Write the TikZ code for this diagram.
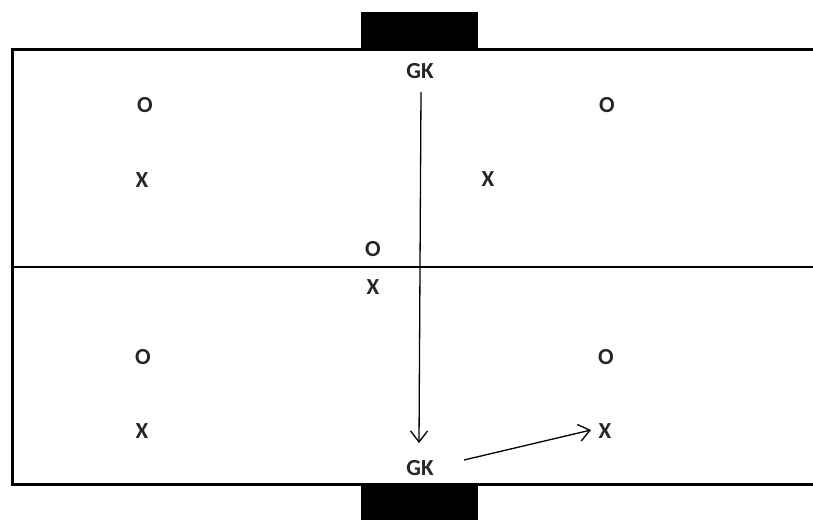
\documentclass[tikz,border=0pt]{standalone}
\usepackage{fontspec}
\setmainfont{Carlito}
\usetikzlibrary{arrows.meta}
\begin{document}
\begin{tikzpicture}[x=1pt,y=-1pt,
  lbl/.style={font=\bfseries\fontsize{23}{23}\selectfont, inner sep=0pt, text=black!85},
  arr/.style={-{Straight Barb[length=11pt,width=17pt,line width=1.3pt]}, line width=1.3pt}]
\useasboundingbox[fill=white] (0,0) rectangle (813,520);
% pitch
\draw[line width=3pt] (813,49) -- (12,49) -- (12,484) -- (813,484);
\draw[line width=1.8pt] (12,267) -- (813,267);
% goals
\fill (361,12) rectangle (478,49);
\fill (361,484) rectangle (478,520);
% players
\node[lbl] (gk1) at (420,71) {GK};
\node[lbl] (o1) at (145,105) {O};
\node[lbl] (x1) at (142,180) {X};
\node[lbl] (o2) at (607,105) {O};
\node[lbl] (x2) at (488,179) {X};
\node[lbl] (o3) at (373,249) {O};
\node[lbl] (x3) at (373,287) {X};
\node[lbl] (o4) at (143,357) {O};
\node[lbl] (x4) at (142,431) {X};
\node[lbl] (o5) at (606,357) {O};
\node[lbl] (x5) at (605,431) {X};
\node[lbl] (gk2) at (420,468) {GK};
% arrows
\coordinate (a1) at (421,92);
\coordinate (a2) at (419,443);
\coordinate (b1) at (464,460);
\coordinate (b2) at (591,430);
\draw[arr] (a1) -- (a2);
\draw[arr] (b1) -- (b2);
\end{tikzpicture}
\end{document}
